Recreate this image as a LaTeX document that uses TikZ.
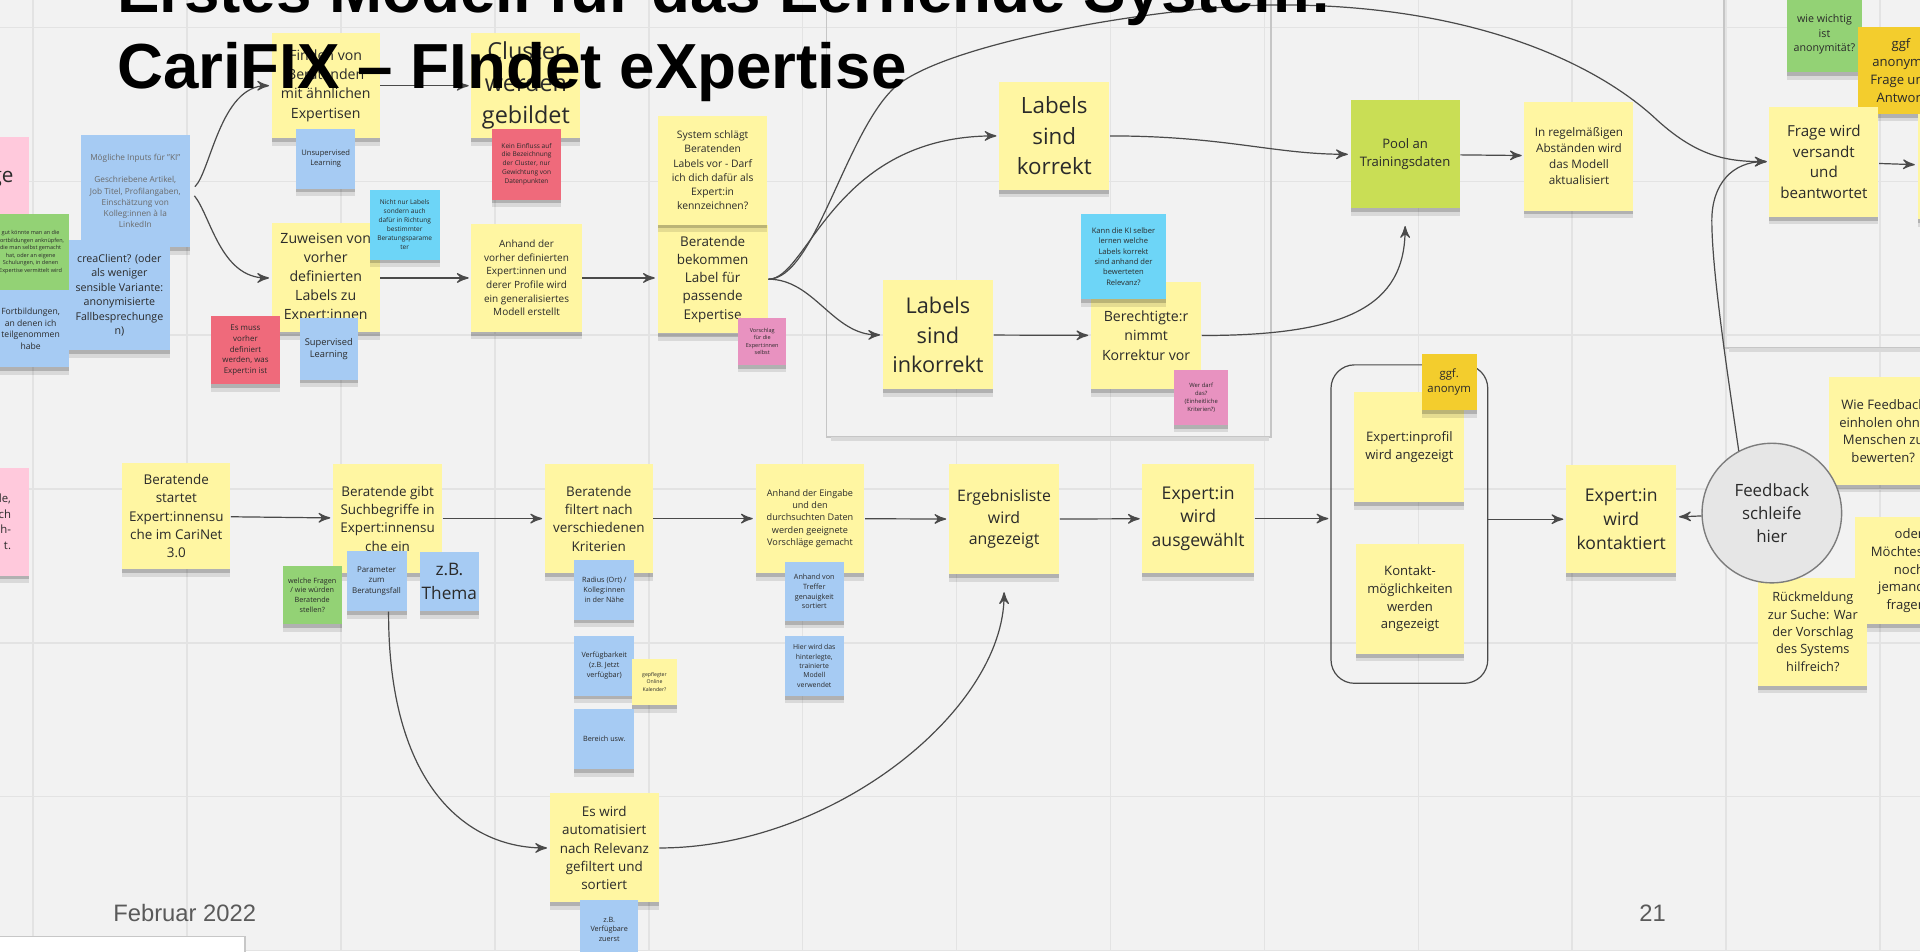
\documentclass[tikz,border=0pt]{standalone}
\usepackage{fontspec}
\setmainfont{Open Sans}
\newfontfamily\slidefont{Liberation Sans}
\usetikzlibrary{arrows,positioning}

\newdimen\unitpx \unitpx=0.0125cm
\newdimen\fzskip
\newcommand{\fz}[1]{\fzskip=#1pt\relax\fzskip=1.36\fzskip\fontsize{#1}{\fzskip}\selectfont}

\definecolor{board}{HTML}{F2F2F2}
\definecolor{gridl}{HTML}{E3E3E3}
\definecolor{framel}{HTML}{C6C6C6}
\definecolor{ink}{HTML}{2A2A2A}
\definecolor{wire}{HTML}{4A4A4A}
\definecolor{footgray}{HTML}{5A5A5A}
\definecolor{sYellow}{HTML}{FFF6A2}
\definecolor{sBlue}{HTML}{A6CBF3}
\definecolor{sRed}{HTML}{EF6A7B}
\definecolor{sCyan}{HTML}{6DD5F7}
\definecolor{sPink}{HTML}{E892C0}
\definecolor{sRose}{HTML}{FFC9DC}
\definecolor{sGreen}{HTML}{93D275}
\definecolor{sLime}{HTML}{C9DE55}
\definecolor{sGold}{HTML}{F3CD2D}
\definecolor{fbfill}{HTML}{E6E6E6}
\definecolor{fbedge}{HTML}{7C7C7C}

\tikzset{
    sticky/.style n args = {3}{fill=#1, minimum width=#2*\unitpx, minimum height=#3*\unitpx,
                 inner sep=0pt, align=center, text=ink,
                 preaction={fill=black, opacity=0.10, transform canvas={yshift=-2.2pt}},
                 preaction={fill=black, opacity=0.18, transform canvas={yshift=-1.1pt}}},
    conn/.style = {->, draw=wire, line width=0.35pt, shorten >=0.6pt},
}

\begin{document}
\begin{tikzpicture}[x=0.0125cm, y=-0.0125cm, >=stealth']
\useasboundingbox (0,0) rectangle (1568,777);
\clip (0,0) rectangle (1568,777);
\fill[board] (0,0) rectangle (1568,777);
% board grid
\foreach \gx in {0,...,12} \draw[gridl, line width=0.45pt] (27+125.7*\gx,0) -- (27+125.7*\gx,777);
\foreach \gy in {0,...,6} \draw[gridl, line width=0.45pt] (0,22.5+125.6*\gy) -- (1568,22.5+125.6*\gy);
% frames
\draw[framel, line width=0.55pt] (675,-5) rectangle (1038,357);
\draw[black!15, line width=1.2pt] (679,358.8) -- (1036,358.8);
\draw[framel, line width=0.55pt] (1408,-5) rectangle (1600,284);
\draw[black!15, line width=1.2pt] (1412,285.8) -- (1600,285.8);

% left edge
\node[sticky={sRose}{88}{88}, font=\fz{6}, text width=0.775cm, align=right] (roseA) at (-20,156) {ge\\\mbox{}};
\node[sticky={sGreen}{62}{62}, font=\fz{1.6}] (greenA) at (25,206) {gut könnte man an die\\ Fortbildungen anknüpfen,\\ die man selbst gemacht\\ hat, oder an eigene\\ Schulungen, in denen\\ Expertise vermittelt wird};
\node[sticky={sBlue}{62}{63}, font=\fz{2.5}] (fortb) at (25,268.5) {Fortbildungen,\\ an denen ich\\ teilgenommen\\ habe};
\node[sticky={sBlue}{89}{92}, font=\fz{2.4}, text=ink!70] (inputs) at (110.5,156) {Mögliche Inputs für "KI"\\[3.3pt] Geschriebene Artikel,\\ Job Titel, Profilangaben,\\ Einschätzung von\\ Kolleg:innen à la\\ LinkedIn};
\node[sticky={sBlue}{83}{90}, font=\fz{3.1}] (crea) at (97.5,241) {creaClient? (oder\\ als weniger\\ sensible Variante:\\ anonymisierte\\ Fallbesprechunge\\ n)};
\node[sticky={sRose}{88}{88}, font=\fz{3.3}, text width=0.725cm, align=right] (roseB) at (-20,426) {de,\\ ch\\ ch-\\ t.};

% upper branch
\node[sticky={sYellow}{88}{86}, font=\fz{4.1}] (finden) at (266,70) {Finden von\\ Beratenden\\ mit ähnlichen\\ Expertisen};
\node[sticky={sBlue}{48}{49}, font=\fz{2.2}] (unsup) at (266,129.5) {Unsupervised\\ Learning};
\node[sticky={sYellow}{89}{86}, font=\fz{6.8}] (cluster) at (429.5,70) {Cluster\\ werden\\ gebildet};
\node[sticky={sRed}{56}{58}, font=\fz{1.9}] (kein) at (430,134) {Kein Einfluss auf\\ die Bezeichnung\\ der Cluster, nur\\ Gewichtung von\\ Datenpunkten};
\node[sticky={sYellow}{88}{89}, font=\fz{4.1}] (zuweisen) at (266,227) {Zuweisen von\\ vorher\\ definierten\\ Labels zu\\ Expert:innen};
\node[sticky={sCyan}{57}{57}, font=\fz{1.9}] (nicht) at (330.5,183.5) {Nicht nur Labels\\ sondern auch\\ dafür in Richtung\\ bestimmter\\ Beratungsparame\\ ter};
\node[sticky={sRed}{57}{56}, font=\fz{2.3}] (esmuss) at (200.5,286) {Es muss\\ vorher\\ definiert\\ werden, was\\ Expert:in ist};
\node[sticky={sBlue}{47}{50}, font=\fz{2.7}] (sup) at (268.5,285) {Supervised\\ Learning};
\node[sticky={sYellow}{90}{88}, font=\fz{2.9}] (anhand) at (430,227) {Anhand der\\ vorher definierten\\ Expert:innen und\\ derer Profile wird\\ ein generalisiertes\\ Modell erstellt};
\node[sticky={sYellow}{90}{88}, font=\fz{3.9}] (bekommen) at (582,228) {Beratende\\ bekommen\\ Label für\\ passende\\ Expertise};
\node[sticky={sYellow}{89}{89}, font=\fz{3}] (system) at (582,139) {System schlägt\\ Beratenden\\ Labels vor - Darf\\ ich dich dafür als\\ Expert:in\\ kennzeichnen?};
\node[sticky={sPink}{39}{38}, font=\fz{1.6}] (vorschlag) at (622.5,279) {Vorschlag\\ für die\\ Expert:innen\\ selbst};

% labels frame
\node[sticky={sYellow}{90}{88}, font=\fz{6.5}] (korrekt) at (861,111) {Labels\\ sind\\ korrekt};
\node[sticky={sYellow}{90}{89}, font=\fz{6.3}] (inkorrekt) at (766,273.5) {Labels\\ sind\\ inkorrekt};
\node[sticky={sYellow}{90}{88}, font=\fz{4.1}] (berecht) at (936,274) {Berechtigte:r\\ nimmt\\ Korrektur vor};
\node[sticky={sCyan}{69}{70}, font=\fz{2.2}] (kann) at (917.5,209.5) {Kann die KI selber\\ lernen welche\\ Labels korrekt\\ sind anhand der\\ bewerteten\\ Relevanz?};
\node[sticky={sPink}{44}{45}, font=\fz{1.7}] (werdarf) at (981,324.5) {Wer darf\\ das?\\ (Einheitliche\\ Kriterien?)};

\node[sticky={sLime}{89}{88}, font=\fz{3.8}] (pool) at (1147.5,126) {Pool an\\ Trainingsdaten};
\node[sticky={sYellow}{89}{89}, font=\fz{3.4}] (regel) at (1289.5,127.5) {In regelmäßigen\\ Abständen wird\\ das Modell\\ aktualisiert};

% right frame
\node[sticky={sGreen}{62}{62}, font=\fz{3.1}] (wichtig) at (1490,28) {wie wichtig\\ ist\\ anonymität?};
\node[sticky={sGold}{71}{71}, font=\fz{3.8}] (ggfA) at (1552.5,57.5) {ggf\\ anonyme\\ Frage und\\ Antwort};
\node[sticky={sYellow}{89}{90}, font=\fz{4.4}] (frage) at (1489.5,132) {Frage wird\\ versandt\\ und\\ beantwortet};
\node[sticky={sYellow}{88}{86}] (weiter) at (1610,136) {};

% feedback
\node[sticky={sYellow}{88}{88}, font=\fz{3.8}] (wiefb) at (1538,352) {Wie Feedback\\ einholen ohne\\ Menschen zu\\ bewerten?};
\node[sticky={sYellow}{88}{88}, font=\fz{3.8}] (oder) at (1559,466) {oder\\ Möchtest du\\ noch\\ jemanden\\ fragen?};
\node[sticky={sYellow}{89}{88}, font=\fz{3.7}] (rueck) at (1480.5,516) {Rückmeldung\\ zur Suche: War\\ der Vorschlag\\ des Systems\\ hilfreich?};
\node[circle, fill=fbfill, draw=fbedge, line width=0.4pt, minimum size=114*\unitpx, inner sep=0pt, align=center, text=ink, font=\fz{4.9}] (feedback) at (1447,419) {Feedback\\ schleife\\ hier};
\node[sticky={sYellow}{90}{88}, font=\fz{5.1}] (kontaktiert) at (1324,424) {Expert:in\\ wird\\ kontaktiert};
\node[draw=wire, line width=0.35pt, rounded corners=2.4mm, minimum width=1.6cm, minimum height=3.25cm] (profbox) at (1151,428) {};
\node[sticky={sYellow}{90}{90}, font=\fz{3.8}] (profil) at (1151,365) {Expert:inprofil\\ wird angezeigt};
\node[sticky={sGold}{45}{46}, font=\fz{3.3}] (ggfB) at (1183.5,312) {ggf.\\ anonym};
\node[sticky={sYellow}{89}{90}, font=\fz{3.8}] (kontaktwege) at (1151.5,489) {Kontakt-\\ möglichkeiten\\ werden\\ angezeigt};

% search row
\node[sticky={sYellow}{88}{87}, font=\fz{3.9}] (start) at (144,421.5) {Beratende\\ startet\\ Expert:innensu\\ che im CariNet\\ 3.0};
\node[sticky={sYellow}{89}{89}, font=\fz{3.9}] (gibt) at (316.5,423.5) {Beratende gibt\\ Suchbegriffe in\\ Expert:innensu\\ che ein};
\node[sticky={sGreen}{48}{48}, font=\fz{2.1}] (welche) at (255,486) {welche Fragen\\ / wie würden\\ Beratende\\ stellen?};
\node[sticky={sBlue}{49}{49}, font=\fz{2.3}] (param) at (307.5,474.5) {Parameter\\ zum\\ Beratungsfall};
\node[sticky={sBlue}{48}{48}, font=\fz{5}] (thema) at (367,475) {z.B.\\ Thema};
\node[sticky={sYellow}{88}{89}, font=\fz{3.9}] (filtert) at (489,423.5) {Beratende\\ filtert nach\\ verschiedenen\\ Kriterien};
\node[sticky={sBlue}{49}{49}, font=\fz{2.1}] (radius) at (493.5,481.5) {Radius (Ort) /\\ Kolleg:innen\\ in der Nähe};
\node[sticky={sBlue}{49}{49}, font=\fz{2.1}, below=0.15cm of radius] (verfueg) {Verfügbarkeit\\ (z.B. Jetzt\\ verfügbar)};
\node[sticky={sYellow}{37}{38}, font=\fz{1.5}] (kalender) at (534.5,557) {gepflegter\\ Online\\ Kalender?};
\node[sticky={sBlue}{49}{49}, font=\fz{2.1}, below=0.125cm of verfueg] (bereich) {Bereich usw.};
\node[sticky={sYellow}{89}{89}, font=\fz{2.65}] (eingabe) at (661.5,423.5) {Anhand der Eingabe\\ und den\\ durchsuchten Daten\\ werden geeignete\\ Vorschläge gemacht};
\node[sticky={sBlue}{48}{48}, font=\fz{2.1}] (treffer) at (665,483) {Anhand von\\ Treffer\\ genauigkeit\\ sortiert};
\node[sticky={sBlue}{48}{49}, font=\fz{2}, below=0.14cm of treffer] (modell) {Hier wird das\\ hinterlegte,\\ trainierte\\ Modell\\ verwendet};
\node[sticky={sYellow}{90}{90}, font=\fz{4.6}] (ergebnis) at (820,424) {Ergebnisliste\\ wird\\ angezeigt};
\node[sticky={sYellow}{91}{89}, font=\fz{5.1}] (auswahl) at (978.5,423.5) {Expert:in\\ wird\\ ausgewählt};
\node[sticky={sYellow}{89}{89}, font=\fz{3.9}] (autom) at (493.5,692.5) {Es wird\\ automatisiert\\ nach Relevanz\\ gefiltert und\\ sortiert};
\node[sticky={sBlue}{47}{48}, font=\fz{2.1}] (zbverf) at (497.5,759) {z.B.\\ Verfügbare\\ zuerst};

% connectors
\draw[conn, shorten <=1.8pt] (inputs.east) .. controls (172,140) and (180,70) .. (finden.west);
\draw[conn, shorten <=1.8pt] (inputs.east) .. controls (172,176) and (180,227) .. (zuweisen.west);
\draw[conn] (finden) -- (cluster);
\draw[conn] (zuweisen) -- (anhand);
\draw[conn] (anhand.east) -- (anhand.east -| bekommen.west);
\draw[conn] (bekommen.east) .. controls (665,228) and (690,110) .. (730,72)
   .. controls (770,35) and (950,4) .. (1045,4)
   .. controls (1200,4) and (1300,50) .. (1350,95)
   .. controls (1385,128) and (1410,132) .. (frage.west);
\draw[conn] (bekommen.east) .. controls (660,228) and (680,111) .. (korrekt.west);
\draw[conn] (bekommen.east) .. controls (665,228) and (680,273.5) .. (inkorrekt.west);
\draw[conn] (inkorrekt) -- (berecht);
\draw[conn] (korrekt.east) .. controls (1000,111) and (1040,126) .. (pool.west);
\draw[conn, shorten >=5pt] (berecht.east) .. controls (1100,274) and (1147.5,250) .. (pool.south);
\draw[conn] (pool) -- (regel);
\draw[conn] (frage) -- (weiter);
\draw[conn] (feedback.118) .. controls (1410,300) and (1398,220) .. (1398,180)
   .. controls (1398,150) and (1415,132) .. (frage.west);
\draw[conn] (feedback) -- (kontaktiert);
\draw[conn] (auswahl.east) -- (auswahl.east -| profbox.west);
\draw[conn] (kontaktiert.west -| profbox.east) -- (kontaktiert.west);
\draw[conn] (start) -- (gibt);
\draw[conn] (gibt) -- (filtert);
\draw[conn] (filtert) -- (eingabe);
\draw[conn] (eingabe) -- (ergebnis);
\draw[conn] (ergebnis) -- (auswahl);
\draw[conn] ([xshift=3.5pt]param.south) .. controls (317,640) and (380,692.5) .. (autom.west);
\draw[conn, shorten >=5pt] (autom.east) .. controls (680,692.5) and (820,580) .. (ergebnis.south);

% slide texts
\node[font=\slidefont\bfseries\fontsize{18.5}{22}\selectfont, anchor=base west, inner sep=0pt] (title1) at (95,10) {Erstes Modell für das Lernende System:};
\node[font=\slidefont\bfseries\fontsize{18.5}{22}\selectfont, anchor=base west, inner sep=0pt] (title2) at (95,72) {CariFIX – FIndet eXpertise};
\node[font=\slidefont\fontsize{6.9}{8}\selectfont, text=footgray, anchor=west, inner sep=0pt] (datum) at (92,746) {Februar 2022};
\node[font=\slidefont\fontsize{6.9}{8}\selectfont, text=footgray, anchor=east, inner sep=0pt] (seite) at (1361,746) {21};
\draw[fill=white, draw=black!22, line width=0.4pt] (-2,765) rectangle (200,790);
\end{tikzpicture}
\end{document}
